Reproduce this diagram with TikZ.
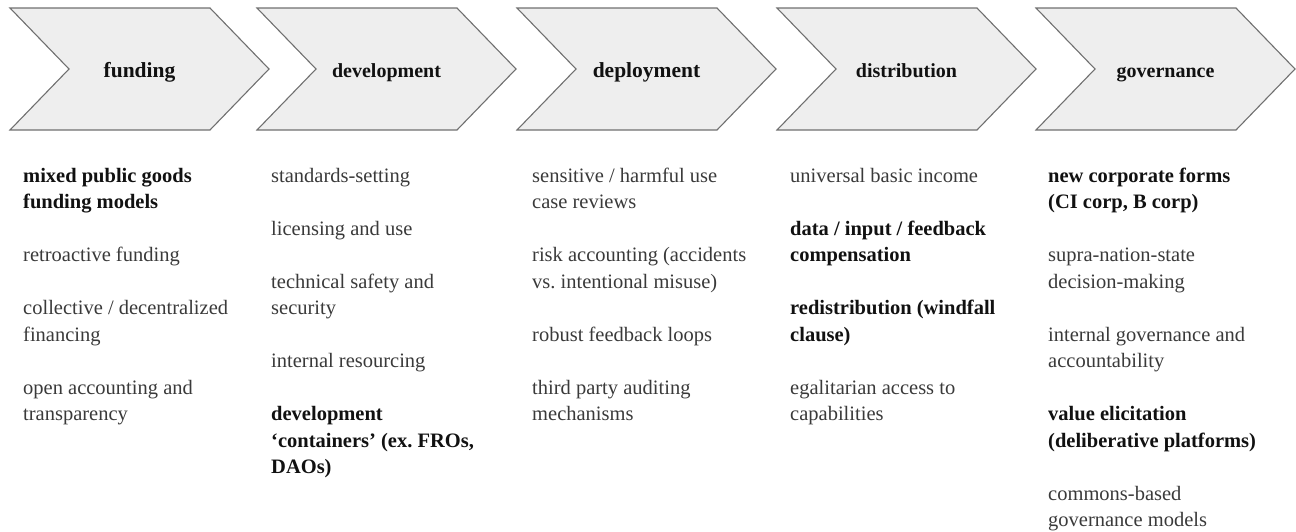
\documentclass[tikz,border=0pt]{standalone}
\usepackage{fontspec}
\setmainfont{Liberation Serif}
\usetikzlibrary{positioning}
\definecolor{chevfill}{HTML}{EEEEEE}
\definecolor{chevline}{HTML}{707070}
\definecolor{txtgray}{HTML}{3A3A3A}
\definecolor{txtdark}{HTML}{111111}
\newcommand{\kw}[1]{\textbf{\color{txtdark}#1}}

\begin{document}
\begin{tikzpicture}[x=1pt,y=-1pt,
    chev/.style={draw=chevline,fill=chevfill,line width=1.1pt},
    stage/.style={anchor=base,text=txtdark,font=\bfseries\fontsize{20}{24}\selectfont},
    bigstage/.style={anchor=base,text=txtdark,font=\bfseries\fontsize{21.5}{24}\selectfont},
    items/.style={anchor=north west,inner sep=0pt,align=left,text=txtgray,
      font=\fontsize{20.5}{26.5}\selectfont}]
  \useasboundingbox (0,0) rectangle (1296,531);
  % chevrons
  \draw[chev,shift={(10,0)}] (0,8) -- (200,8) -- (259,69) -- (200,130) -- (0,130) -- (59,69) -- cycle;
  \draw[chev,shift={(257,0)}] (0,8) -- (200,8) -- (259,69) -- (200,130) -- (0,130) -- (59,69) -- cycle;
  \draw[chev,shift={(517,0)}] (0,8) -- (200,8) -- (259,69) -- (200,130) -- (0,130) -- (59,69) -- cycle;
  \draw[chev,shift={(777,0)}] (0,8) -- (200,8) -- (259,69) -- (200,130) -- (0,130) -- (59,69) -- cycle;
  \draw[chev,shift={(1036,0)}] (0,8) -- (200,8) -- (259,69) -- (200,130) -- (0,130) -- (59,69) -- cycle;
  \node[bigstage] (fund) at (139.5,77) {funding};
  \node[stage] (dev) at (386.5,77) {development};
  \node[bigstage] (depl) at (646.5,77) {deployment};
  \node[stage] (dist) at (906.5,77) {distribution};
  \node[stage] (gov) at (1165.5,77) {governance};
  % lists (top of strut = first baseline - 0.7*26.5)
  \node[items] (fundList) at (23,163.5) {\strut\kw{mixed public goods}\\ \kw{funding models}\\[26.5pt]
    retroactive funding\\[26.5pt]
    collective / decentralized\\ financing\\[26.5pt]
    open accounting and\\ transparency};
  \node[items] (devList) at (271,163.5) {\strut standards-setting\\[26.5pt]
    licensing and use\\[26.5pt]
    technical safety and\\ security\\[26.5pt]
    internal resourcing\\[26.5pt]
    \kw{development}\\ \kw{`containers' (ex.\ FROs,}\\ \kw{DAOs)}};
  \node[items] (deplList) at (532,163.5) {\strut sensitive / harmful use\\ case reviews\\[26.5pt]
    risk accounting (accidents\\ vs.\ intentional misuse)\\[26.5pt]
    robust feedback loops\\[26.5pt]
    third party auditing\\ mechanisms};
  \node[items] (distList) at (790,163.5) {\strut universal basic income\\[26.5pt]
    \kw{data / input / feedback}\\ \kw{compensation}\\[26.5pt]
    \kw{redistribution (windfall}\\ \kw{clause)}\\[26.5pt]
    egalitarian access to\\ capabilities};
  \node[items] (govList) at (1048,163.5) {\strut\kw{new corporate forms}\\ \kw{(CI corp, B corp)}\\[26.5pt]
    supra-nation-state\\ decision-making\\[26.5pt]
    internal governance and\\ accountability\\[26.5pt]
    \kw{value elicitation}\\ \kw{(deliberative platforms)}\\[26.5pt]
    commons-based\\ governance models};
\end{tikzpicture}
\end{document}
